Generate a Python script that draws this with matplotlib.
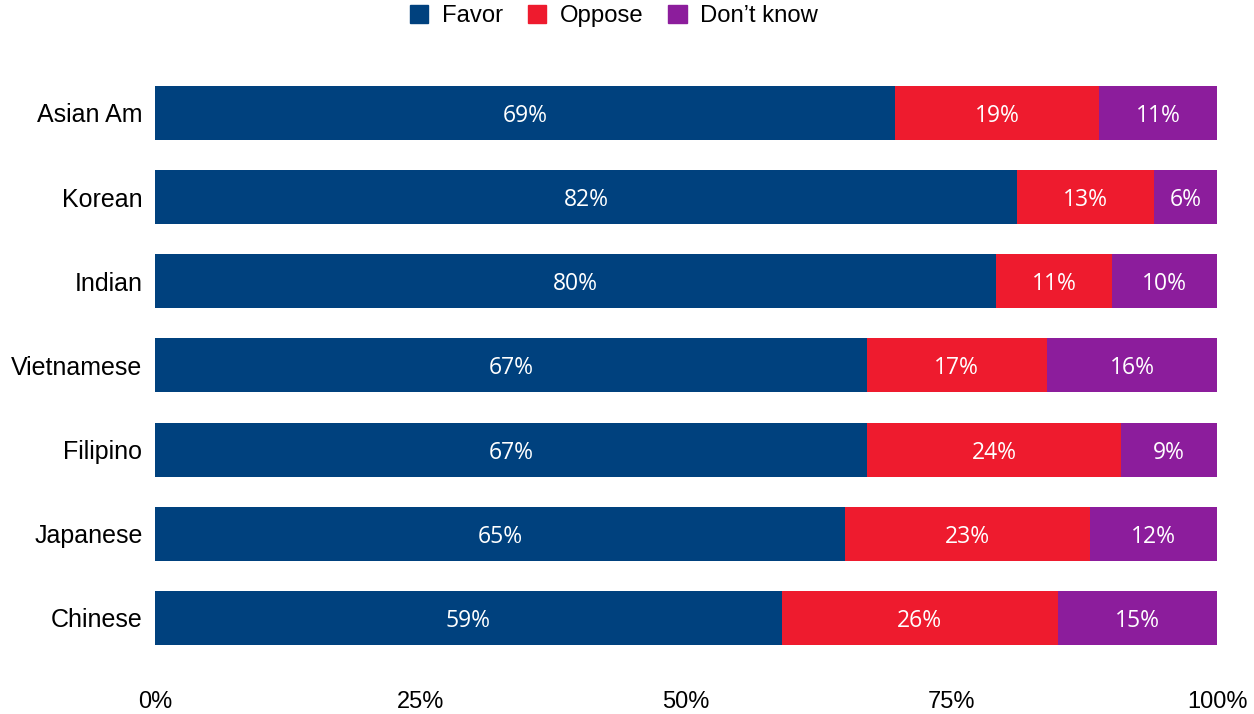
import matplotlib.pyplot as plt
import numpy as np
from matplotlib.patches import Patch

# Dados do gráfico
groups = ["Asian Am", "Korean", "Indian", "Vietnamese", "Filipino", "Japanese", "Chinese"]
favor = [69, 82, 80, 67, 67, 65, 59]
oppose = [19, 13, 11, 17, 24, 23, 26]
dont_know = [11, 6, 10, 16, 9, 12, 15]
series_names = ["Favor", "Oppose", "Don\u2019t know"]
colors = ["#00417E", "#EE1B2E", "#8C1D9C"]
tick_values = [0, 25, 50, 75, 100]

values = np.array([favor, oppose, dont_know], dtype=float)
totals = values.sum(axis=0)
shares = values / totals * 100  # barras ocupam 100% da largura

fig = plt.figure(figsize=(12.54, 7.14), dpi=100)
ax = fig.add_axes([0.1236, 0.0461, 0.9705 - 0.1236, 0.9303 - 0.0461])

y = np.arange(len(groups))[::-1]
left = np.zeros(len(groups))
for i in range(3):
    ax.barh(y, shares[i], left=left, height=0.64, color=colors[i], label=series_names[i])
    for j in range(len(groups)):
        ax.text(left[j] + shares[i][j] / 2, y[j], f"{int(values[i][j])}%",
                ha="center", va="center_baseline", color="white", fontsize=16.5, family="Open Sans")
    left += shares[i]

ax.set_xlim(0, 100)
ax.set_ylim(-0.75, 6.75)
ax.set_yticks(y)
ax.set_yticklabels(groups, fontsize=18, family="Liberation Sans")
ax.set_xticks(tick_values)
ax.set_xticklabels([f"{t}%" for t in tick_values], fontsize=17, family="Liberation Sans")
ax.tick_params(axis="both", length=0)
ax.tick_params(axis="x", pad=7)
ax.tick_params(axis="y", pad=9)
for s in ax.spines.values():
    s.set_visible(False)

handles = [Patch(color=c) for c in colors]
fig.legend(handles, series_names, loc="upper center", bbox_to_anchor=(0.4895, 1.023), ncol=3,
           frameon=False, prop={"family": "Liberation Sans", "size": 17.2},
           handlelength=0.78, handleheight=0.78, handletextpad=0.55, columnspacing=1.05)

fig.savefig("out.png", dpi=100)
